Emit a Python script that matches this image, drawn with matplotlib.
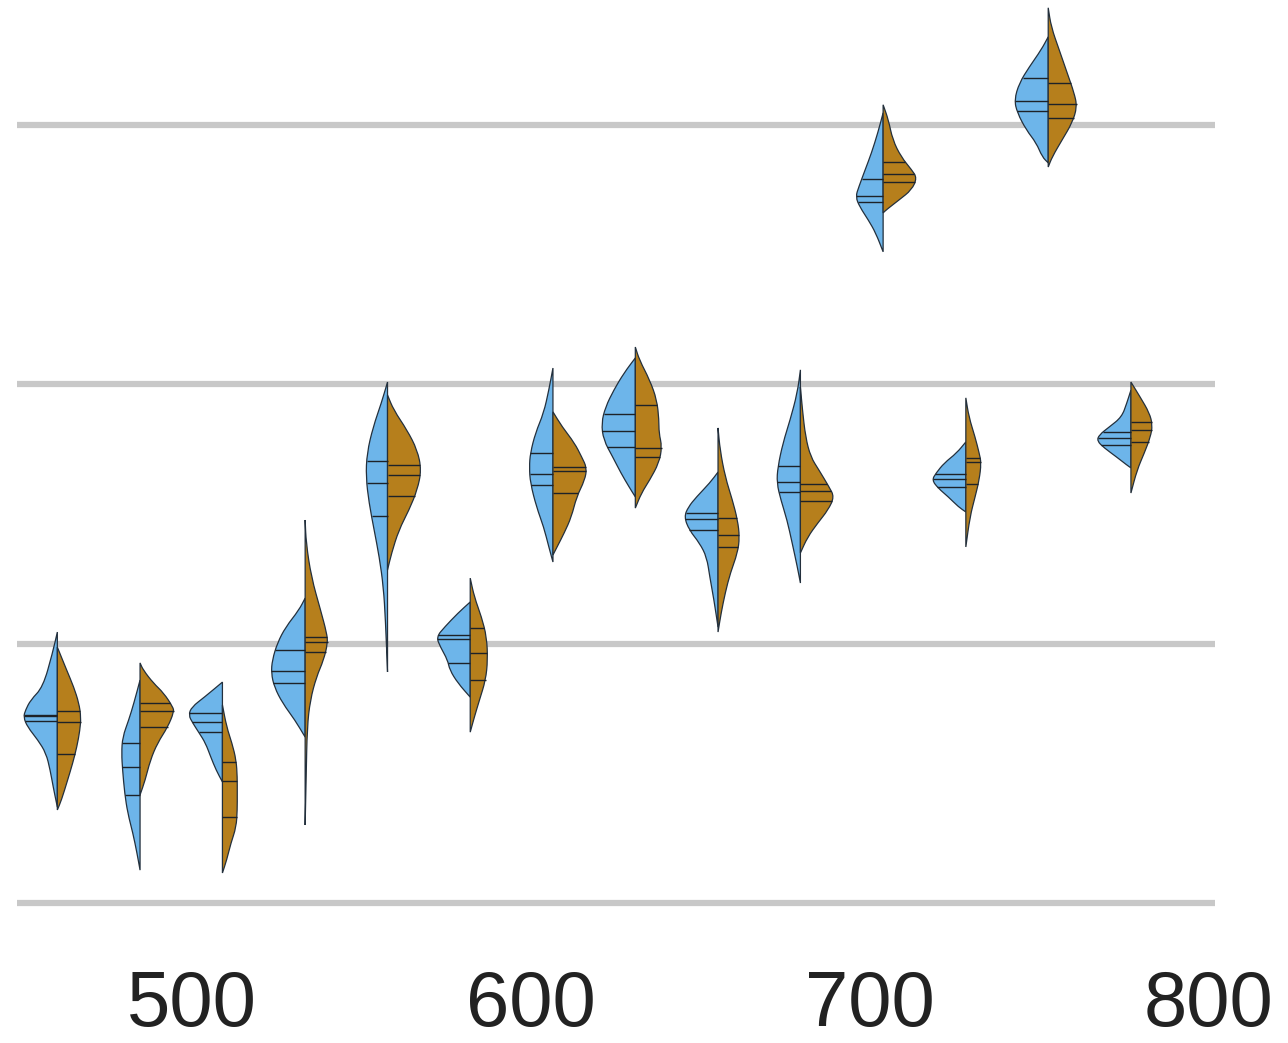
import numpy as np
import matplotlib
matplotlib.use("Agg")
import matplotlib.pyplot as plt
from matplotlib.path import Path
from matplotlib.patches import PathPatch

# violin centres (x units) and the x tick labels
positions = [460.4, 484.8, 509.1, 533.5, 557.8, 582.2, 606.6,
             630.9, 655.3, 679.6, 704.0, 728.4, 752.7, 777.1]
xticks = [500, 600, 700, 800]
grid_y = [0, 1, 2, 3]

# left (blue) halves: y levels, density at each level, quartiles
blue_y = [
    [1.045, 0.964, 0.833, 0.783, 0.744, 0.717, 0.679, 0.629, 0.578, 0.513, 0.447, 0.370],
    [0.860, 0.771, 0.706, 0.640, 0.578, 0.513, 0.424, 0.347, 0.270, 0.193, 0.127],
    [0.852, 0.794, 0.756, 0.725, 0.694, 0.656, 0.617, 0.563, 0.513, 0.467],
    [1.176, 1.130, 1.064, 1.003, 0.937, 0.887, 0.833, 0.771, 0.706, 0.640],
    [2.009, 1.928, 1.836, 1.735, 1.643, 1.543, 1.438, 1.334, 1.219, 1.091, 0.891],
    [1.161, 1.118, 1.064, 1.026, 0.987, 0.937, 0.899, 0.848, 0.794],
    [2.063, 1.978, 1.890, 1.813, 1.735, 1.681, 1.620, 1.527, 1.450, 1.373, 1.315],
    [2.102, 2.044, 1.978, 1.913, 1.851, 1.786, 1.720, 1.658, 1.604, 1.566],
    [1.662, 1.620, 1.566, 1.527, 1.489, 1.438, 1.388, 1.334, 1.257, 1.169, 1.064],
    [2.056, 1.967, 1.863, 1.774, 1.681, 1.620, 1.554, 1.477, 1.388, 1.296, 1.234],
    [3.047, 2.970, 2.892, 2.827, 2.761, 2.723, 2.684, 2.634, 2.584, 2.511],
    [1.778, 1.735, 1.697, 1.658, 1.631, 1.600, 1.566, 1.527, 1.508],
    [3.340, 3.290, 3.224, 3.162, 3.097, 3.047, 2.981, 2.931, 2.877, 2.854],
    [1.978, 1.928, 1.874, 1.836, 1.805, 1.782, 1.755, 1.720, 1.689, 1.678],
]
blue_dens = [
    [0, 4.7, 14, 26, 31, 33, 29, 19, 11, 7, 4, 0],
    [0, 6, 11, 17, 18, 17, 15, 12, 7, 3, 0],
    [0, 17, 29, 32, 28, 22, 16, 11, 6, 0],
    [0, 6, 19, 27, 32, 33, 30, 22, 10, 0],
    [0, 6, 14, 20, 21, 18, 13, 8, 4, 2, 0],
    [0, 12, 25, 33, 29, 22, 20, 12, 0],
    [0, 4, 9, 17, 22, 23, 22, 16, 9, 4, 0],
    [0, 11, 21, 29, 33, 31, 22, 14, 6, 0],
    [0, 8, 21, 29, 33, 28, 18, 11, 8, 4, 0],
    [0, 3, 10, 17, 22, 23, 19, 13, 8, 3, 0],
    [0, 5, 11, 17, 23, 26, 22, 14, 7, 0],
    [0, 9, 21, 29, 33, 27, 17, 7, 0],
    [0, 7, 19, 29, 34, 31, 22, 12, 6, 0],
    [0, 4, 9, 21, 31, 33, 26, 14, 4, 0],
]
blue_quart = [
    [0.702, 0.721, 0.725], [0.417, 0.524, 0.617], [0.659, 0.698, 0.733],
    [0.848, 0.895, 0.976], [1.492, 1.620, 1.705], [0.926, 1.018, 1.034],
    [1.612, 1.654, 1.735], [1.759, 1.820, 1.886], [1.438, 1.481, 1.504],
    [1.585, 1.624, 1.685], [2.703, 2.727, 2.792], [1.604, 1.635, 1.654],
    [3.054, 3.093, 3.182], [1.766, 1.793, 1.816],
]

# right (brown) halves
brown_y = [
    [0.987, 0.899, 0.833, 0.771, 0.717, 0.667, 0.602, 0.540, 0.474, 0.397, 0.359],
    [0.926, 0.899, 0.848, 0.810, 0.756, 0.737, 0.679, 0.617, 0.551, 0.474, 0.417],
    [0.764, 0.679, 0.617, 0.551, 0.486, 0.424, 0.359, 0.293, 0.231, 0.166, 0.116],
    [1.477, 1.388, 1.257, 1.130, 1.041, 1.003, 0.937, 0.872, 0.783, 0.679, 0.486, 0.301],
    [1.959, 1.901, 1.824, 1.747, 1.670, 1.593, 1.516, 1.438, 1.350, 1.284],
    [1.253, 1.180, 1.103, 1.026, 0.937, 0.860, 0.783, 0.717, 0.659],
    [1.894, 1.836, 1.774, 1.720, 1.678, 1.631, 1.566, 1.489, 1.427, 1.373, 1.342],
    [2.144, 2.094, 2.017, 1.940, 1.863, 1.813, 1.759, 1.697, 1.631, 1.581, 1.523],
    [1.832, 1.747, 1.643, 1.554, 1.477, 1.411, 1.350, 1.273, 1.196, 1.118, 1.045],
    [1.990, 1.901, 1.797, 1.720, 1.670, 1.604, 1.566, 1.516, 1.466, 1.411, 1.350],
    [3.078, 3.020, 2.943, 2.877, 2.827, 2.796, 2.750, 2.711, 2.673, 2.661],
    [1.948, 1.874, 1.797, 1.735, 1.697, 1.631, 1.566, 1.489, 1.373],
    [3.452, 3.378, 3.290, 3.201, 3.124, 3.070, 3.008, 2.943, 2.877, 2.838],
    [2.009, 1.951, 1.890, 1.843, 1.797, 1.735, 1.670, 1.581],
]
brown_dens = [
    [0, 9, 16, 21, 23, 22, 19, 15, 10, 4, 0],
    [0, 3, 13, 23, 32, 33, 27, 17, 10, 5, 0],
    [0, 4, 9, 13, 14, 14, 14, 13, 8, 4, 0],
    [0, 1, 6, 15, 21, 22, 18, 11, 5, 2, 1, 0],
    [0, 6, 19, 29, 33, 29, 21, 11, 4, 0],
    [0, 4, 11, 16, 17, 15, 9, 4, 0],
    [0, 9, 21, 28, 33, 31, 23, 18, 11, 4, 0],
    [0, 4, 14, 21, 23, 23, 26, 23, 14, 6, 0],
    [0, 2, 7, 14, 19, 21, 19, 12, 7, 3, 0],
    [0, 2, 5, 10, 18, 28, 33, 27, 17, 7, 0],
    [0, 5, 9, 17, 27, 32, 27, 15, 3, 0],
    [0, 3, 9, 13, 15, 13, 9, 4, 0],
    [0, 3, 11, 19, 26, 29, 24, 14, 4, 0],
    [0, 9, 18, 21, 19, 13, 6, 0],
]
brown_quart = [
    [0.575, 0.698, 0.740], [0.679, 0.740, 0.771], [0.332, 0.470, 0.544],
    [0.968, 1.007, 1.026], [1.570, 1.651, 1.689], [0.860, 0.964, 1.061],
    [1.581, 1.666, 1.681], [1.720, 1.755, 1.921], [1.373, 1.419, 1.485],
    [1.550, 1.589, 1.616], [2.781, 2.811, 2.858], [1.616, 1.701, 1.716],
    [3.027, 3.081, 3.162], [1.778, 1.824, 1.855],
]

BLUE = "#6db5ea"
BROWN = "#b67f1c"
EDGE = "#23303d"
HALF_WIDTH = 10.0


def half_violin(ax, pos, ys, dens, side, scale, color):
    xs = pos + side * np.asarray(dens, float) * scale
    pts = list(zip(xs, ys))
    mid = lambda a, b: ((a[0] + b[0]) / 2, (a[1] + b[1]) / 2)
    verts = [pts[0], mid(pts[0], pts[1])]
    codes = [Path.MOVETO, Path.LINETO]
    for i in range(1, len(pts) - 1):
        verts += [pts[i], mid(pts[i], pts[i + 1])]
        codes += [Path.CURVE3, Path.CURVE3]
    verts += [pts[-1], pts[0], pts[0]]
    codes += [Path.LINETO, Path.LINETO, Path.CLOSEPOLY]
    ax.add_patch(PathPatch(Path(verts, codes), facecolor=color,
                           edgecolor=EDGE, lw=0.9, zorder=3))


def quartile_lines(ax, pos, ys, dens, quarts, side, scale):
    ya = np.asarray(ys, float)[::-1]
    da = np.asarray(dens, float)[::-1]
    for q in quarts:
        w = np.interp(q, ya, da) * scale
        ax.plot([pos, pos + side * w], [q, q], color="#1d2228", lw=1.0,
                zorder=4, solid_capstyle="butt")


fig = plt.figure(figsize=(12.88, 10.43), dpi=100)
ax = fig.add_axes([17 / 1288, 128 / 1043, 1198 / 1288, 915 / 1043])

for i, pos in enumerate(positions):
    top = max(max(blue_dens[i]), max(brown_dens[i]))
    s = HALF_WIDTH / top
    half_violin(ax, pos, blue_y[i], blue_dens[i], -1, s, BLUE)
    half_violin(ax, pos, brown_y[i], brown_dens[i], 1, s, BROWN)
    quartile_lines(ax, pos, blue_y[i], blue_dens[i], blue_quart[i], -1, s)
    quartile_lines(ax, pos, brown_y[i], brown_dens[i], brown_quart[i], 1, s)

ax.set_xlim(448.5, 801.9)
ax.set_ylim(-0.046, 3.482)
ax.set_yticks(grid_y)
ax.yaxis.grid(True, color="#c8c8c8", lw=4.5)
ax.set_axisbelow(True)
ax.set_xticks(xticks)
ax.tick_params(axis="y", length=0, labelleft=False)
ax.tick_params(axis="x", length=0, pad=39, labelsize=56, labelcolor="#222222")
for lab in ax.get_xticklabels():
    lab.set_fontfamily("Liberation Sans")
for sp in ax.spines.values():
    sp.set_visible(False)

fig.savefig("out.png", dpi=100, facecolor="white")
